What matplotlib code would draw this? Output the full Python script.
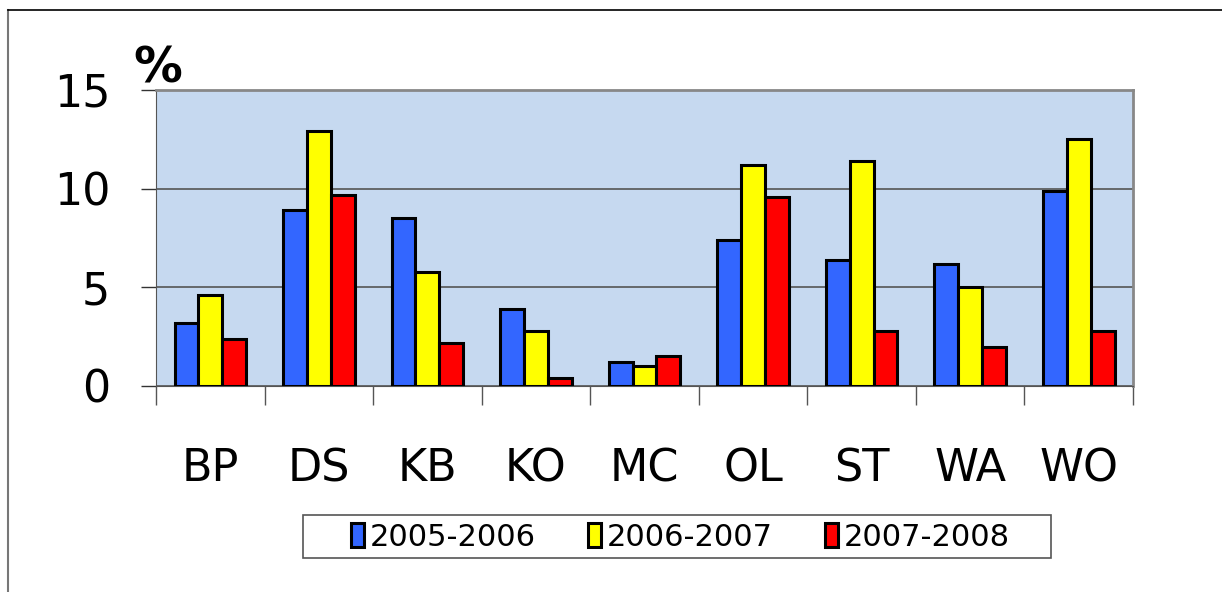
import numpy as np
import matplotlib.pyplot as plt
from matplotlib.lines import Line2D
from matplotlib.patches import Rectangle

regions = ['BP', 'DS', 'KB', 'KO', 'MC', 'OL', 'ST', 'WA', 'WO']
s2005 = [3.2, 8.9, 8.5, 3.9, 1.2, 7.4, 6.4, 6.2, 9.9]
s2006 = [4.6, 12.9, 5.8, 2.8, 1.0, 11.2, 11.4, 5.0, 12.5]
s2007 = [2.4, 9.7, 2.2, 0.4, 1.5, 9.6, 2.8, 2.0, 2.8]
labels = ['2005-2006', '2006-2007', '2007-2008']
colors = ['#3366ff', '#ffff00', '#ff0000']

fig = plt.figure(figsize=(12.22, 5.92), dpi=100)
ax = fig.add_axes([0.1277, 0.348, 0.7995, 0.5])
ax.set_facecolor('#c6d9f0')

x = np.arange(len(regions))
w = 0.22
for i, (vals, lab, c) in enumerate(zip([s2005, s2006, s2007], labels, colors)):
    ax.bar(x + (i - 1) * w, vals, w, color=c, edgecolor='black', linewidth=2.2,
           label=lab, zorder=3)

ax.set_xlim(-0.5, len(regions) - 0.5)
ax.set_ylim(0, 15)
ax.set_yticks([0, 5, 10, 15])
ax.yaxis.grid(True, color='#555555', linewidth=1.2, zorder=1)
ax.set_xticks(x)
ax.set_xticklabels(regions, fontsize=32)
ax.set_xticks(np.arange(len(regions) + 1) - 0.5, minor=True)
ax.tick_params(axis='x', which='major', length=0, pad=44)
ax.tick_params(axis='x', which='minor', length=14, width=1, color='#555555')
ax.tick_params(axis='y', labelsize=32, length=11, width=1, color='#333333', pad=22)
for side in ['top', 'right']:
    ax.spines[side].set_color('#888888')
    ax.spines[side].set_linewidth(2)
ax.spines['left'].set_color('#555555')
ax.spines['bottom'].set_color('#555555')

fig.text(0.109, 0.861, '%', fontsize=35, fontweight='bold', ha='left', va='baseline')

# outer frame
fig.add_artist(Line2D([0.0065, 0.0065], [0, 0.983], transform=fig.transFigure, color='#777777', lw=1.5))
fig.add_artist(Line2D([0.0065, 1], [0.983, 0.983], transform=fig.transFigure, color='black', lw=1.2))

# legend box
fig.add_artist(Rectangle((303 / 1222, 1 - 558 / 592), 748 / 1222, 43 / 592,
                         transform=fig.transFigure, facecolor='white',
                         edgecolor='#555555', linewidth=1.2, zorder=-1))
leg = ax.legend(loc='center', bbox_to_anchor=(0.557, 0.0925), bbox_transform=fig.transFigure,
                ncol=3, fontsize=22, frameon=False,
                handlelength=0.42, handleheight=0.8, handletextpad=0.2, columnspacing=1.7,
                borderpad=0.3, borderaxespad=0)

fig.savefig('out.png', dpi=100)
